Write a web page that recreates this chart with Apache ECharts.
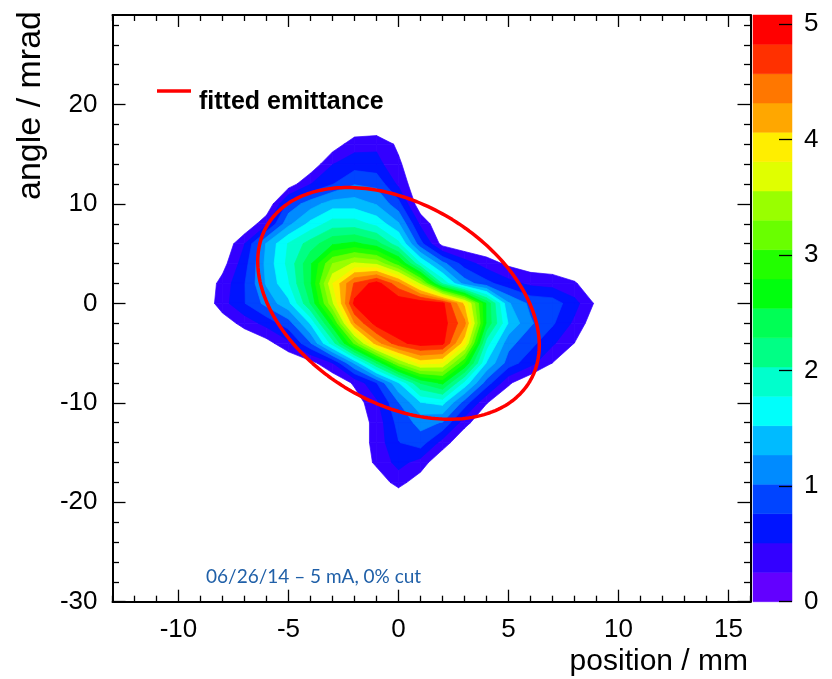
<!DOCTYPE html>
<html>
<head>
<meta charset="utf-8">
<script src="https://cdn.jsdelivr.net/npm/echarts@6/dist/echarts.min.js"></script>
<style>
  html, body { margin: 0; padding: 0; background: #fff; }
  #chart { width: 832px; height: 679px; }
</style>
</head>
<body>
<div id="chart"></div>
<script>
// Transverse phase-space density (arb. units), sampled on a regular grid.
const xPositions = [-10, -9, -8, -7, -6, -5, -4, -3, -2, -1, 0, 1, 2, 3, 4, 5, 6, 7, 8, 9, 10]; // mm
const yAngles = [18, 16, 14, 12, 10, 8, 6, 4, 2, 0, -2, -4, -6, -8, -10, -12, -14, -16, -18, -20]; // mrad
const density = [
  [0, 0, 0, 0, 0, 0, 0, 0, 0, 0, 0, 0, 0, 0, 0, 0, 0, 0, 0, 0, 0],
  [0, 0, 0, 0, 0, 0, 0, 0.1, 0.4, 0.45, 0.2, 0, 0, 0, 0, 0, 0, 0, 0, 0, 0],
  [0, 0, 0, 0, 0, 0, 0.05, 0.5, 0.65, 0.6, 0.3, 0, 0, 0, 0, 0, 0, 0, 0, 0, 0],
  [0, 0, 0, 0, 0, 0.1, 0.5, 0.75, 1.0, 0.95, 0.45, 0, 0, 0, 0, 0, 0, 0, 0, 0, 0],
  [0, 0, 0, 0, 0, 0.85, 1.15, 1.4, 1.4, 1.25, 0.85, 0.05, 0, 0, 0, 0, 0, 0, 0, 0, 0],
  [0, 0, 0, 0, 0.45, 1.2, 1.6, 1.9, 1.9, 1.7, 1.3, 0.45, 0, 0, 0, 0, 0, 0, 0, 0, 0],
  [0, 0, 0, 0.5, 1.3, 1.8, 2.15, 2.5, 2.6, 2.4, 1.85, 0.85, 0.15, 0, 0, 0, 0, 0, 0, 0, 0],
  [0, 0, 0.15, 0.65, 1.35, 1.85, 2.5, 3.3, 3.6, 3.5, 2.9, 1.8, 1.1, 0.65, 0.38, 0.2, 0.1, 0.08, 0.05, 0, 0],
  [0, 0, 0.35, 0.75, 1.3, 1.75, 2.5, 3.8, 4.6, 4.95, 4.4, 3.5, 2.0, 1.15, 0.85, 0.6, 0.45, 0.4, 0.28, 0.08, 0],
  [0, 0, 0.4, 0.75, 1.1, 1.45, 2.3, 3.5, 4.9, 5.0, 5.05, 5.05, 4.9, 4.0, 2.5, 1.3, 0.95, 0.9, 0.6, 0.2, 0],
  [0, 0, 0.1, 0.35, 0.6, 0.9, 1.55, 2.7, 4.3, 4.95, 5.08, 5.05, 4.95, 4.4, 2.5, 1.5, 1.05, 0.8, 0.45, 0.05, 0],
  [0, 0, 0, 0, 0.15, 0.45, 1.0, 1.9, 3.1, 4.2, 4.75, 4.95, 4.9, 3.9, 1.9, 1.1, 0.85, 0.55, 0.25, 0, 0],
  [0, 0, 0, 0, 0, 0, 0.15, 0.5, 1.3, 2.3, 3.3, 3.9, 3.8, 2.8, 1.5, 0.9, 0.6, 0.25, 0, 0, 0],
  [0, 0, 0, 0, 0, 0, 0, 0, 0.3, 0.75, 1.5, 2.3, 2.6, 1.7, 0.9, 0.3, 0, 0, 0, 0, 0],
  [0, 0, 0, 0, 0, 0, 0, 0, 0.1, 0.45, 1.0, 1.5, 1.6, 0.9, 0.27, 0, 0, 0, 0, 0, 0],
  [0, 0, 0, 0, 0, 0, 0, 0, 0.05, 0.35, 0.85, 1.1, 1.0, 0.35, 0, 0, 0, 0, 0, 0, 0],
  [0, 0, 0, 0, 0, 0, 0, 0, 0.05, 0.35, 0.75, 0.9, 0.4, 0, 0, 0, 0, 0, 0, 0, 0],
  [0, 0, 0, 0, 0, 0, 0, 0, 0.05, 0.3, 0.6, 0.4, 0, 0, 0, 0, 0, 0, 0, 0, 0],
  [0, 0, 0, 0, 0, 0, 0, 0, 0, 0.1, 0.35, 0.1, 0, 0, 0, 0, 0, 0, 0, 0, 0],
  [0, 0, 0, 0, 0, 0, 0, 0, 0, 0, 0, 0, 0, 0, 0, 0, 0, 0, 0, 0, 0]
];

// Colour scale: 20 equal contour bands from 0 to zMax
const zMax = 5.08;
const nLevels = 20;
const palette = [
  '#6300ff', '#3300ff', '#0014ff', '#0044ff', '#008bff', '#00bbff', '#00fffb', '#00ffcc', '#00ff85', '#00ff55',
  '#00ff0e', '#22ff00', '#69ff00', '#99ff00', '#e0ff00', '#ffee00', '#ffa700', '#ff7700', '#ff3000', '#ff0000'
];

// Axis ranges and ticks
const xRange = [-13, 16];
const yRange = [-30, 29];
const xMajorTicks = [-10, -5, 0, 5, 10, 15];
const xMinorTicks = [-13, -12, -11, -9, -8, -7, -6, -4, -3, -2, -1, 1, 2, 3, 4, 6, 7, 8, 9, 11, 12, 13, 14, 16];
const yMajorTicks = [-30, -20, -10, 0, 10, 20];
const yMinorTicks = [-28, -26, -24, -22, -18, -16, -14, -12, -8, -6, -4, -2, 2, 4, 6, 8, 12, 14, 16, 18, 22, 24, 26, 28];
const zTicks = [0, 1, 2, 3, 4, 5];

// Fitted RMS emittance ellipse (Twiss parameters), centred on the beam
const emittance = 69.5;   // mm mrad
const twissAlpha = 0.388;
const twissBeta = 0.589;  // mm / mrad
const ellipseCentre = [0, 0];

const ellipsePoints = [];
(function () {
  const n = 240;
  const a = Math.sqrt(emittance * twissBeta);
  const b = Math.sqrt(emittance / twissBeta);
  for (let i = 0; i <= n; i++) {
    const phi = 2 * Math.PI * i / n;
    ellipsePoints.push([
      ellipseCentre[0] + a * Math.cos(phi),
      ellipseCentre[1] - b * (twissAlpha * Math.cos(phi) + Math.sin(phi))
    ]);
  }
})();

// Part of one grid cell where the linearly interpolated density is >= level
function cellPolygon(xs, ys, vs, level) {
  const pts = [];
  for (let i = 0; i < 4; i++) {
    const j = (i + 1) % 4;
    const a = vs[i], b = vs[j];
    const ina = a >= level, inb = b >= level;
    if (ina) pts.push([xs[i], ys[i]]);
    if (ina !== inb) {
      const t = (level - a) / (b - a);
      pts.push([xs[i] + t * (xs[j] - xs[i]), ys[i] + t * (ys[j] - ys[i])]);
    }
  }
  return pts;
}

function renderContourLevel(params, api) {
  const k = api.value(1);
  const level = k * zMax / nLevels;
  const color = palette[k];
  const children = [];
  for (let r = 0; r < yAngles.length - 1; r++) {
    for (let c = 0; c < xPositions.length - 1; c++) {
      const vs = [density[r][c], density[r][c + 1], density[r + 1][c + 1], density[r + 1][c]];
      if (Math.max(vs[0], vs[1], vs[2], vs[3]) < level) continue;
      const xs = [xPositions[c], xPositions[c + 1], xPositions[c + 1], xPositions[c]];
      const ys = [yAngles[r], yAngles[r], yAngles[r + 1], yAngles[r + 1]];
      const poly = cellPolygon(xs, ys, vs, level);
      if (poly.length < 3) continue;
      children.push({
        type: 'polygon',
        shape: { points: poly.map(p => api.coord(p)) },
        style: { fill: color, stroke: color, lineWidth: 0.7 }
      });
    }
  }
  return { type: 'group', children: children };
}

function renderPaletteBand(params, api) {
  const k = api.value(1);
  const p0 = api.coord([0, k * zMax / nLevels]);
  const p1 = api.coord([1, (k + 1) * zMax / nLevels]);
  return {
    type: 'rect',
    shape: { x: p0[0], y: p1[1], width: p1[0] - p0[0], height: p0[1] - p1[1] },
    style: { fill: palette[k], stroke: palette[k], lineWidth: 0.5 }
  };
}

const contourLevels = [];
for (let k = 1; k < nLevels; k++) contourLevels.push([0, k]);
const paletteBands = [];
for (let k = 0; k < nLevels; k++) paletteBands.push([0, k]);

const numFont = { fontFamily: '"Liberation Sans", Arial, Helvetica, sans-serif', fontSize: 26, color: '#000' };
const black = { color: '#000', width: 2 };

function frameAxis(extra) {
  return Object.assign({
    type: 'value',
    gridIndex: 0,
    splitLine: { show: false },
    axisLine: { show: false, onZero: false, lineStyle: black },
    axisLabel: { show: false },
    axisTick: { show: false }
  }, extra);
}

const xAxes = [
  frameAxis({ min: xRange[0], max: xRange[1], position: 'bottom',
    axisLine: { show: true, onZero: false, lineStyle: black },
    axisTick: { show: true, inside: true, length: 12, customValues: xMajorTicks, lineStyle: { color: '#000', width: 1.3 } },
    axisLabel: Object.assign({ show: true, margin: 15, customValues: xMajorTicks }, numFont) }),
  frameAxis({ min: xRange[0], max: xRange[1], position: 'bottom',
    axisTick: { show: true, inside: true, length: 6, customValues: xMinorTicks, lineStyle: { color: '#000', width: 1.3 } } }),
  frameAxis({ min: xRange[0], max: xRange[1], position: 'top',
    axisLine: { show: true, onZero: false, lineStyle: black },
    axisTick: { show: true, inside: true, length: 12, customValues: xMajorTicks, lineStyle: { color: '#000', width: 1.3 } } }),
  frameAxis({ min: xRange[0], max: xRange[1], position: 'top',
    axisTick: { show: true, inside: true, length: 6, customValues: xMinorTicks, lineStyle: { color: '#000', width: 1.3 } } }),
  { type: 'value', gridIndex: 1, min: 0, max: 1, show: false }
];

const yAxes = [
  frameAxis({ min: yRange[0], max: yRange[1], position: 'left',
    axisLine: { show: true, onZero: false, lineStyle: black },
    axisTick: { show: true, inside: true, length: 13, customValues: yMajorTicks, lineStyle: { color: '#000', width: 1.3 } },
    axisLabel: Object.assign({ show: true, margin: 15, customValues: yMajorTicks }, numFont) }),
  frameAxis({ min: yRange[0], max: yRange[1], position: 'left',
    axisTick: { show: true, inside: true, length: 6.5, customValues: yMinorTicks, lineStyle: { color: '#000', width: 1.3 } } }),
  frameAxis({ min: yRange[0], max: yRange[1], position: 'right',
    axisLine: { show: true, onZero: false, lineStyle: black },
    axisTick: { show: true, inside: true, length: 13, customValues: yMajorTicks, lineStyle: { color: '#000', width: 1.3 } } }),
  frameAxis({ min: yRange[0], max: yRange[1], position: 'right',
    axisTick: { show: true, inside: true, length: 6.5, customValues: yMinorTicks, lineStyle: { color: '#000', width: 1.3 } } }),
  { type: 'value', gridIndex: 1, min: 0, max: zMax, position: 'right', z: 10,
    splitLine: { show: false },
    axisLine: { show: false, onZero: false },
    axisTick: { show: true, inside: true, length: 13, customValues: zTicks, lineStyle: { color: '#000', width: 1.3 } },
    axisLabel: Object.assign({ show: true, margin: 12, customValues: zTicks }, numFont) }
];

const chart = echarts.init(document.getElementById('chart'), null, { renderer: 'canvas', width: 832, height: 679 });

chart.setOption({
  animation: false,
  backgroundColor: '#ffffff',
  grid: [
    { left: 112.5, top: 15, width: 638, height: 586.7, containLabel: false, outerBoundsMode: 'none' },
    { left: 753, top: 15, width: 39, height: 586.7, containLabel: false, outerBoundsMode: 'none' }
  ],
  xAxis: xAxes,
  yAxis: yAxes,
  series: [
    {
      type: 'custom',
      name: 'density',
      coordinateSystem: 'cartesian2d',
      xAxisIndex: 0,
      yAxisIndex: 0,
      data: contourLevels,
      encode: { x: 0, y: 1 },
      renderItem: renderContourLevel,
      clip: true,
      silent: true,
      z: 2
    },
    {
      type: 'line',
      name: 'fitted emittance',
      xAxisIndex: 0,
      yAxisIndex: 0,
      data: ellipsePoints,
      showSymbol: false,
      symbol: 'none',
      smooth: false,
      lineStyle: { color: '#ff0000', width: 3.5 },
      silent: true,
      z: 5
    },
    {
      type: 'custom',
      name: 'palette',
      coordinateSystem: 'cartesian2d',
      xAxisIndex: 4,
      yAxisIndex: 4,
      data: paletteBands,
      encode: { x: 0, y: 1 },
      renderItem: renderPaletteBand,
      silent: true,
      z: 2
    }
  ],
  graphic: [
    { type: 'line', shape: { x1: 157, y1: 91, x2: 191, y2: 91 }, style: { stroke: '#ff0000', lineWidth: 3.5 } },
    { type: 'text', x: 199, y: 102,
      style: { text: 'fitted emittance', font: 'bold 25px "Liberation Sans", Arial, sans-serif', fill: '#000',
               align: 'left', verticalAlign: 'middle', textAlign: 'left', textVerticalAlign: 'middle' } },
    { type: 'text', x: 206, y: 577,
      style: { text: '06/26/14 \u2013 5 mA, 0% cut', font: '19px Lato, "Open Sans", sans-serif', fill: '#2060a8',
               align: 'left', verticalAlign: 'middle', textAlign: 'left', textVerticalAlign: 'middle' } },
    { type: 'text', x: 748, y: 662,
      style: { text: 'position / mm', font: '30px "Liberation Sans", Arial, sans-serif', fill: '#000',
               align: 'right', verticalAlign: 'middle', textAlign: 'right', textVerticalAlign: 'middle' } },
    { type: 'text', x: 31, y: 11, rotation: Math.PI / 2,
      style: { text: 'angle / mrad', font: '34px "Liberation Sans", Arial, sans-serif', fill: '#000',
               align: 'right', verticalAlign: 'middle', textAlign: 'right', textVerticalAlign: 'middle' } }
  ]
});
</script>
</body>
</html>
